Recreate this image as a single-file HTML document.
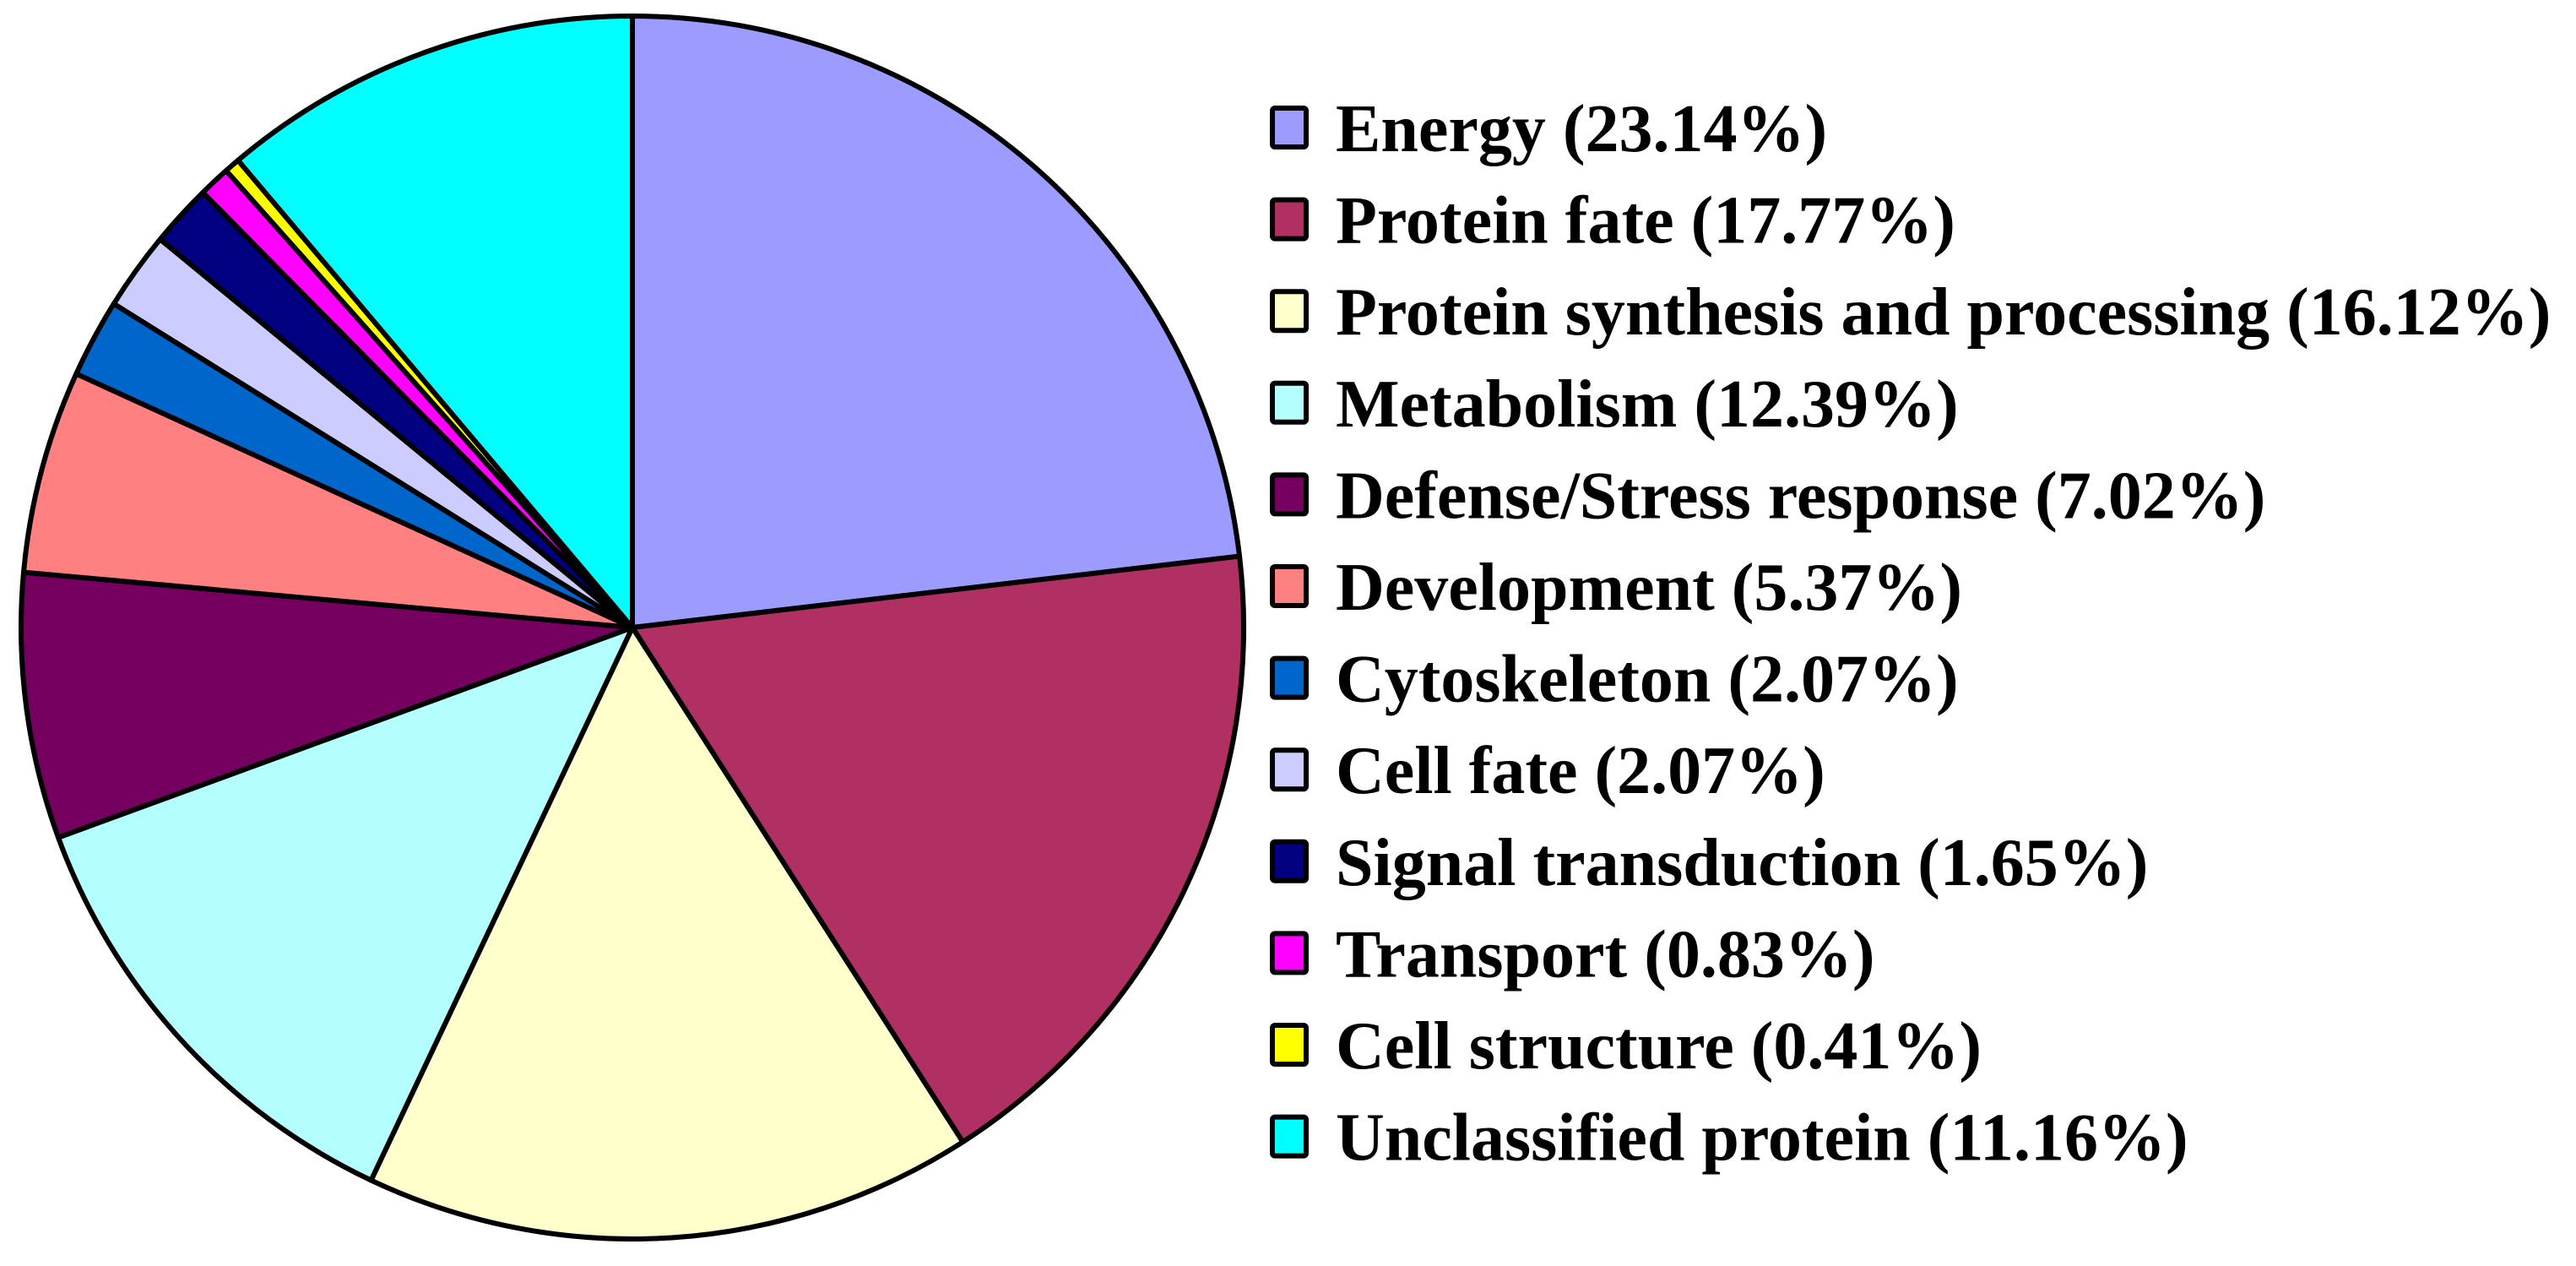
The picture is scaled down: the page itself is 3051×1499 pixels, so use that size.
<!DOCTYPE html>
<html><head><meta charset="utf-8">
<style>
html,body{margin:0;padding:0;background:#fff;}
svg{display:block;}
text{font-family:"Liberation Serif",serif;font-weight:bold;font-size:80px;fill:#000;}
</style></head>
<body>
<svg id="chart" width="3051" height="1499" viewBox="0 0 3051 1499" xmlns="http://www.w3.org/2000/svg">
<g id="slices"></g>
<g id="legend"></g>
</svg>
<script>
const categories = ["Energy","Protein fate","Protein synthesis and processing","Metabolism","Defense/Stress response","Development","Cytoskeleton","Cell fate","Signal transduction","Transport","Cell structure","Unclassified protein"];
const values = [23.14,17.77,16.12,12.39,7.02,5.37,2.07,2.07,1.65,0.83,0.41,11.16];
const labels = ["23.14%","17.77%","16.12%","12.39%","7.02%","5.37%","2.07%","2.07%","1.65%","0.83%","0.41%","11.16%"];
const colors = ["#9C9CFF","#B03064","#FFFFCC","#B3FFFF","#760060","#FF8080","#0066CC","#CCCCFF","#000080","#FF00FF","#FFFF00","#00FFFF"];

const NS="http://www.w3.org/2000/svg";
const cx=749, cy=743, r=724;
const total=values.reduce((a,b)=>a+b,0);
const sg=document.getElementById('slices');
let acc=0;
function pt(frac){const a=frac*2*Math.PI;return [cx+r*Math.sin(a), cy-r*Math.cos(a)];}
values.forEach((v,i)=>{
  const f0=acc/total, f1=(acc+v)/total; acc+=v;
  const p0=pt(f0), p1=pt(f1);
  const large=(f1-f0)>0.5?1:0;
  const p=document.createElementNS(NS,'path');
  p.setAttribute('d',`M${cx},${cy} L${p0[0]},${p0[1]} A${r},${r} 0 ${large} 1 ${p1[0]},${p1[1]} Z`);
  p.setAttribute('fill',colors[i]);
  p.setAttribute('stroke','#000');
  p.setAttribute('stroke-width','6');
  p.setAttribute('stroke-linejoin','round');
  
  
  sg.appendChild(p);
});
const lg=document.getElementById('legend');
const y0=152, step=108.6;
categories.forEach((c,i)=>{
  const y=y0+i*step;
  const g=document.createElementNS(NS,'g');
  
  
  const b=document.createElementNS(NS,'rect');
  b.setAttribute('x',1507);b.setAttribute('y',y-24);
  b.setAttribute('width',40);b.setAttribute('height',46);
  b.setAttribute('rx',3);
  b.setAttribute('fill',colors[i]);b.setAttribute('stroke','#000');b.setAttribute('stroke-width','6');
  
  
  g.appendChild(b);
  const t=document.createElementNS(NS,'text');
  t.setAttribute('x',1582);t.setAttribute('y',y+27);
  t.textContent=c+' ('+labels[i]+')';
  
  
  g.appendChild(t);
  lg.appendChild(g);
});
</script>
</body></html>
